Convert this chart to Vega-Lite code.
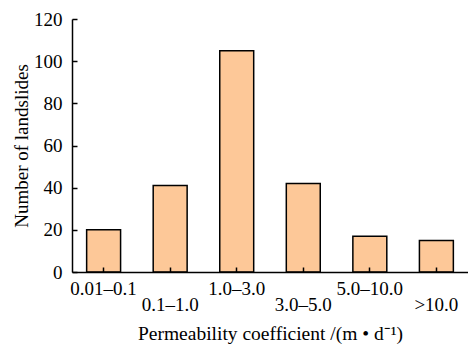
{
  "$schema": "https://vega.github.io/schema/vega-lite/v6.json",
  "width": 396,
  "height": 253,
  "autosize": "none",
  "padding": {"left": 72, "top": 19, "right": 0, "bottom": 73},
  "background": "white",
  "config": {"view": {"stroke": null}, "font": "Liberation Serif"},
  "data": {"values": [
    {"range": "0.01–0.1", "count": 20},
    {"range": "0.1–1.0", "count": 41},
    {"range": "1.0–3.0", "count": 105},
    {"range": "3.0–5.0", "count": 42},
    {"range": "5.0–10.0", "count": 17},
    {"range": ">10.0", "count": 15}
  ]},
  "mark": {"type": "bar", "fill": "#FDC898", "stroke": "black", "strokeWidth": 1.5},
  "encoding": {
    "x": {
      "field": "range", "type": "nominal", "sort": null,
      "scale": {"paddingInner": 0.49, "paddingOuter": 0.22},
      "axis": {
        "zindex": 1,
        "title": "Permeability coefficient /(m • d⁻¹)",
        "titleFont": "Liberation Serif", "titleFontSize": 19.5, "titleFontWeight": "normal", "titleColor": "black",
        "titlePadding": 10,
        "labelAngle": 0, "labelFont": "Liberation Serif", "labelFontSize": 19, "labelColor": "black",
        "labelPadding": {"condition": {"test": "indexof(['0.1–1.0','3.0–5.0','>10.0'], datum.value) >= 0", "value": 28}, "value": 12},
        "ticks": true, "tickSize": -5, "tickColor": "black", "tickWidth": 1.5,
        "domainColor": "black", "domainWidth": 1.5, "grid": false
      }
    },
    "y": {
      "field": "count", "type": "quantitative",
      "scale": {"domain": [0, 120]},
      "axis": {
        "zindex": 1,
        "title": "Number of landslides",
        "titleFont": "Liberation Serif", "titleFontSize": 19, "titleFontWeight": "normal", "titleColor": "black",
        "titlePadding": 2,
        "values": [0, 20, 40, 60, 80, 100, 120],
        "labelFont": "Liberation Serif", "labelFontSize": 19, "labelColor": "black", "labelPadding": 15,
        "ticks": true, "tickSize": -5, "tickColor": "black", "tickWidth": 1.5,
        "domainColor": "black", "domainWidth": 1.5, "grid": false
      }
    }
  }
}
